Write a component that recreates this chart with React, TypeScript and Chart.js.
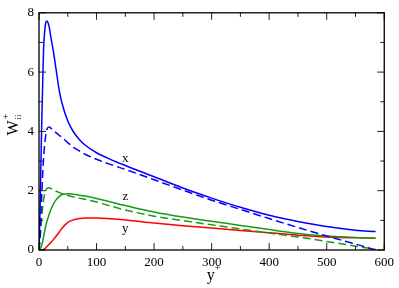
import React, { useEffect, useRef } from 'react';
import { Chart, registerables } from 'chart.js';

Chart.register(...registerables);

// y+ positions (wall distance)
const yPlus = [0, 2, 4, 6, 8, 10, 12, 14, 16, 18, 20, 25, 30, 35, 40, 50, 60, 70, 80, 100, 125, 150, 200, 250, 300, 350, 400, 450, 500, 550, 585];

// x component (blue)
const xSolid = [0, 1.5, 3.6, 5.3, 6.8, 7.4, 7.68, 7.72, 7.65, 7.5, 7.25, 6.7, 6.05, 5.4, 4.95, 4.35, 3.98, 3.73, 3.54, 3.28, 3.05, 2.85, 2.47, 2.09, 1.75, 1.44, 1.17, 0.96, 0.79, 0.67, 0.62];
const xDashed = [0, 0.5, 1.5, 2.4, 3.1, 3.6, 3.9, 4.07, 4.14, 4.15, 4.12, 4.03, 3.95, 3.87, 3.8, 3.62, 3.46, 3.34, 3.23, 3.06, 2.88, 2.72, 2.37, 2.02, 1.68, 1.37, 1.06, 0.76, 0.47, 0.2, 0.0];

// z component (green)
const zSolid = [0, 0.03, 0.12, 0.25, 0.45, 0.65, 0.83, 0.98, 1.1, 1.22, 1.33, 1.55, 1.7, 1.8, 1.87, 1.9, 1.88, 1.85, 1.82, 1.74, 1.62, 1.5, 1.28, 1.11, 0.97, 0.83, 0.69, 0.56, 0.47, 0.42, 0.4];
const zDashed = [0, 0.4, 0.9, 1.35, 1.7, 1.9, 2.02, 2.08, 2.1, 2.1, 2.08, 2.03, 1.98, 1.94, 1.9, 1.84, 1.79, 1.75, 1.71, 1.62, 1.48, 1.35, 1.14, 0.99, 0.85, 0.71, 0.57, 0.44, 0.29, 0.13, 0.02];

// y component (red)
const ySolid = [0, 0, 0.005, 0.01, 0.02, 0.05, 0.08, 0.12, 0.16, 0.2, 0.24, 0.35, 0.47, 0.6, 0.73, 0.93, 1.02, 1.06, 1.08, 1.08, 1.05, 1.01, 0.91, 0.82, 0.74, 0.66, 0.58, 0.5, 0.44, 0.41, 0.4];

// curve annotations
const curveLabels = ['x', 'z', 'y'];
const curveLabelX = [150, 150, 150];
const curveLabelY = [3.1, 1.8, 0.72];

// axes
const xMin = 0, xMax = 600, xMajor = 100, xMinor = 50;
const yMin = 0, yMax = 8, yMajor = 2, yMinor = 1;

const BLUE = '#0000ff';
const GREEN = '#1a9a1a';
const RED = '#ff0000';
const SERIF = "'Liberation Serif', 'Times New Roman', serif";

const toPoints = (vals: number[]) => yPlus.map((x, i) => ({ x, y: vals[i] }));

const framePlugin = {
  id: 'frameTicks',
  afterDatasetsDraw(chart: any) {
    const { ctx, chartArea, scales } = chart;
    const { left, right, top, bottom } = chartArea;
    const xs = scales.x, ys = scales.y;
    ctx.save();
    ctx.strokeStyle = '#222';
    ctx.lineWidth = 1;
    ctx.beginPath();
    for (let v = xMin; v <= xMax; v += xMinor) {
      const px = xs.getPixelForValue(v);
      const len = v % xMajor === 0 ? 7 : 4;
      ctx.moveTo(px, bottom); ctx.lineTo(px, bottom - len);
      ctx.moveTo(px, top); ctx.lineTo(px, top + len);
    }
    for (let v = yMin; v <= yMax; v += yMinor) {
      const py = ys.getPixelForValue(v);
      const len = v % yMajor === 0 ? 7 : 4;
      ctx.moveTo(left, py); ctx.lineTo(left + len, py);
      ctx.moveTo(right, py); ctx.lineTo(right - len, py);
    }
    ctx.stroke();
    ctx.strokeStyle = '#000';
    ctx.lineWidth = 1.3;
    ctx.strokeRect(left, top, right - left, bottom - top);

    // curve labels
    ctx.fillStyle = '#000';
    ctx.font = `13px ${SERIF}`;
    ctx.textAlign = 'center';
    ctx.textBaseline = 'middle';
    curveLabels.forEach((t, i) => {
      ctx.fillText(t, xs.getPixelForValue(curveLabelX[i]), ys.getPixelForValue(curveLabelY[i]));
    });

    // x axis title: y+
    ctx.textAlign = 'center';
    ctx.textBaseline = 'alphabetic';
    ctx.font = `16px ${SERIF}`;
    const cx = (left + right) / 2;
    ctx.fillText('y', cx - 1, 280);
    ctx.font = `10px ${SERIF}`;
    ctx.fillText('+', cx + 6, 271);

    // y axis title: W_ii^+
    ctx.save();
    ctx.translate(18, 128);
    ctx.rotate(-Math.PI / 2);
    ctx.font = `16px ${SERIF}`;
    ctx.textAlign = 'center';
    ctx.fillText('W', 0, 0);
    const w = ctx.measureText('W').width;
    ctx.textAlign = 'left';
    ctx.font = `9px ${SERIF}`;
    ctx.fillText('ii', w / 2 + 1, 3);
    ctx.font = `10px ${SERIF}`;
    ctx.fillText('+', w / 2 + 1, -9);
    ctx.restore();

    ctx.restore();
  },
};

export default function App() {
  const ref = useRef<HTMLCanvasElement>(null);
  useEffect(() => {
    if (!ref.current) return;
    const line = (label: string, vals: number[], color: string, dashed: boolean) => ({
      label,
      data: toPoints(vals),
      borderColor: color,
      backgroundColor: color,
      borderWidth: 1.5,
      borderDash: dashed ? [8, 4] : [],
      pointRadius: 0,
      fill: false,
      cubicInterpolationMode: 'monotone' as const,
    });
    const chart = new Chart(ref.current, {
      type: 'line',
      data: {
        datasets: [
          line('x', xSolid, BLUE, false),
          line('x dashed', xDashed, BLUE, true),
          line('z', zSolid, GREEN, false),
          line('z dashed', zDashed, GREEN, true),
          line('y', ySolid, RED, false),
        ],
      },
      options: {
        animation: false,
        responsive: false,
        devicePixelRatio: 1,
        layout: { padding: { top: 5, right: 11, left: 0, bottom: 0 } },
        plugins: { legend: { display: false }, tooltip: { enabled: false } },
        scales: {
          x: {
            type: 'linear',
            min: xMin,
            max: xMax,
            grid: { display: false, drawTicks: false },
            border: { display: false },
            ticks: {
              stepSize: xMajor,
              autoSkip: false,
              maxRotation: 0,
              padding: 5,
              color: '#000',
              font: { family: SERIF, size: 13 },
            },
            afterFit: (s: any) => { s.height = 38; },
          },
          y: {
            type: 'linear',
            min: yMin,
            max: yMax,
            grid: { display: false, drawTicks: false },
            border: { display: false },
            ticks: {
              stepSize: yMajor,
              autoSkip: false,
              padding: 5,
              color: '#000',
              font: { family: SERIF, size: 13 },
            },
            afterFit: (s: any) => { s.width = 39; },
          },
        },
      },
      plugins: [framePlugin],
    });
    return () => chart.destroy();
  }, []);
  return (
    <div style={{ position: 'fixed', left: 0, top: 0, width: 399, height: 288, background: '#fff' }}>
      <canvas ref={ref} width={399} height={288} style={{ display: 'block' }} />
    </div>
  );
}
